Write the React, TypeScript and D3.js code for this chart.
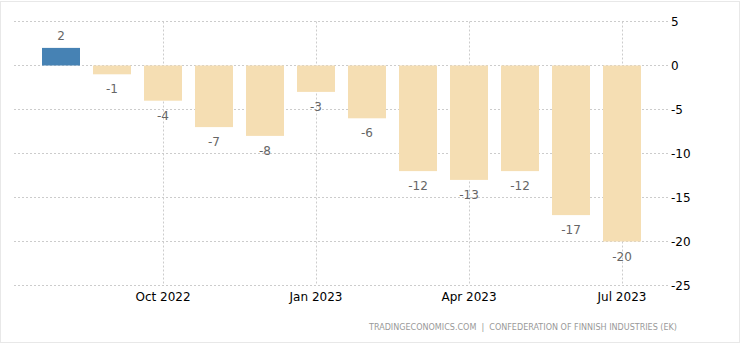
import React from "react";
import * as d3 from "d3";

const months = ["2022-08","2022-09","2022-10","2022-11","2022-12","2023-01","2023-02","2023-03","2023-04","2023-05","2023-06","2023-07"];
const values = [2, -1, -4, -7, -8, -3, -6, -12, -13, -12, -17, -20];
const xTickMonths = ["2022-10","2023-01","2023-04","2023-07"];
const xTickLabels = ["Oct 2022","Jan 2023","Apr 2023","Jul 2023"];
const yTicks = [5, 0, -5, -10, -15, -20, -25];
const sourceText = "TRADINGECONOMICS.COM  |  CONFEDERATION OF FINNISH INDUSTRIES (EK)";

export default function App() {
  const W = 747, H = 357;
  const x = d3.scaleBand<string>().domain(months).range([35.5, 647.5]).paddingInner(0.255).paddingOuter(0.1275);
  const y = d3.scaleLinear().domain([-25, 5]).range([285.5, 21.5]);
  const font = "Tahoma, 'DejaVu Sans', Verdana, sans-serif";
  return (
    <svg width={W} height={H} style={{ position: "absolute", left: 0, top: 0 }}>
      <rect x={0.5} y={1.5} width={739} height={341} fill="#fff" stroke="#e8e8e8" />
      {yTicks.map(t => (
        <line key={"h" + t} x1={14} x2={668} y1={y(t)} y2={y(t)} stroke="#ccc" strokeDasharray="2,2" />
      ))}
      {xTickMonths.map(m => {
        const cx = Math.round(x(m)! + x.bandwidth() / 2) + 0.5;
        return <line key={"v" + m} x1={cx} x2={cx} y1={y(5)} y2={y(-25)} stroke="#ccc" strokeDasharray="2,2" />;
      })}
      {months.map((m, i) => {
        const v = values[i];
        const y0 = y(0), y1 = y(v);
        return (
          <rect key={m} x={x(m)} y={Math.min(y0, y1)} width={x.bandwidth()} height={Math.abs(y1 - y0)}
            fill={v >= 0 ? "#4682b4" : "#f5deb3"} />
        );
      })}
      {months.map((m, i) => {
        const v = values[i];
        const cx = x(m)! + x.bandwidth() / 2;
        const ty = v >= 0 ? y(v) - 8 : y(v) + 19;
        return (
          <text key={"l" + m} x={cx} y={ty} textAnchor="middle" fontSize={12} fill="#666" fontFamily={font}>{v}</text>
        );
      })}
      {yTicks.map(t => (
        <text key={"yt" + t} x={671} y={y(t) + 4} fontSize={12} fill="#000" fontFamily={font}>{t}</text>
      ))}
      {xTickMonths.map((m, i) => (
        <text key={"xt" + m} x={x(m)! + x.bandwidth() / 2} y={301} textAnchor="middle" fontSize={12} fill="#000" fontFamily={font}>{xTickLabels[i]}</text>
      ))}
      <text x={369} y={330} fontSize={9.5} fill="#999" fontFamily={font} textLength={308} lengthAdjust="spacingAndGlyphs" style={{ whiteSpace: "pre" }}>{sourceText}</text>
    </svg>
  );
}
